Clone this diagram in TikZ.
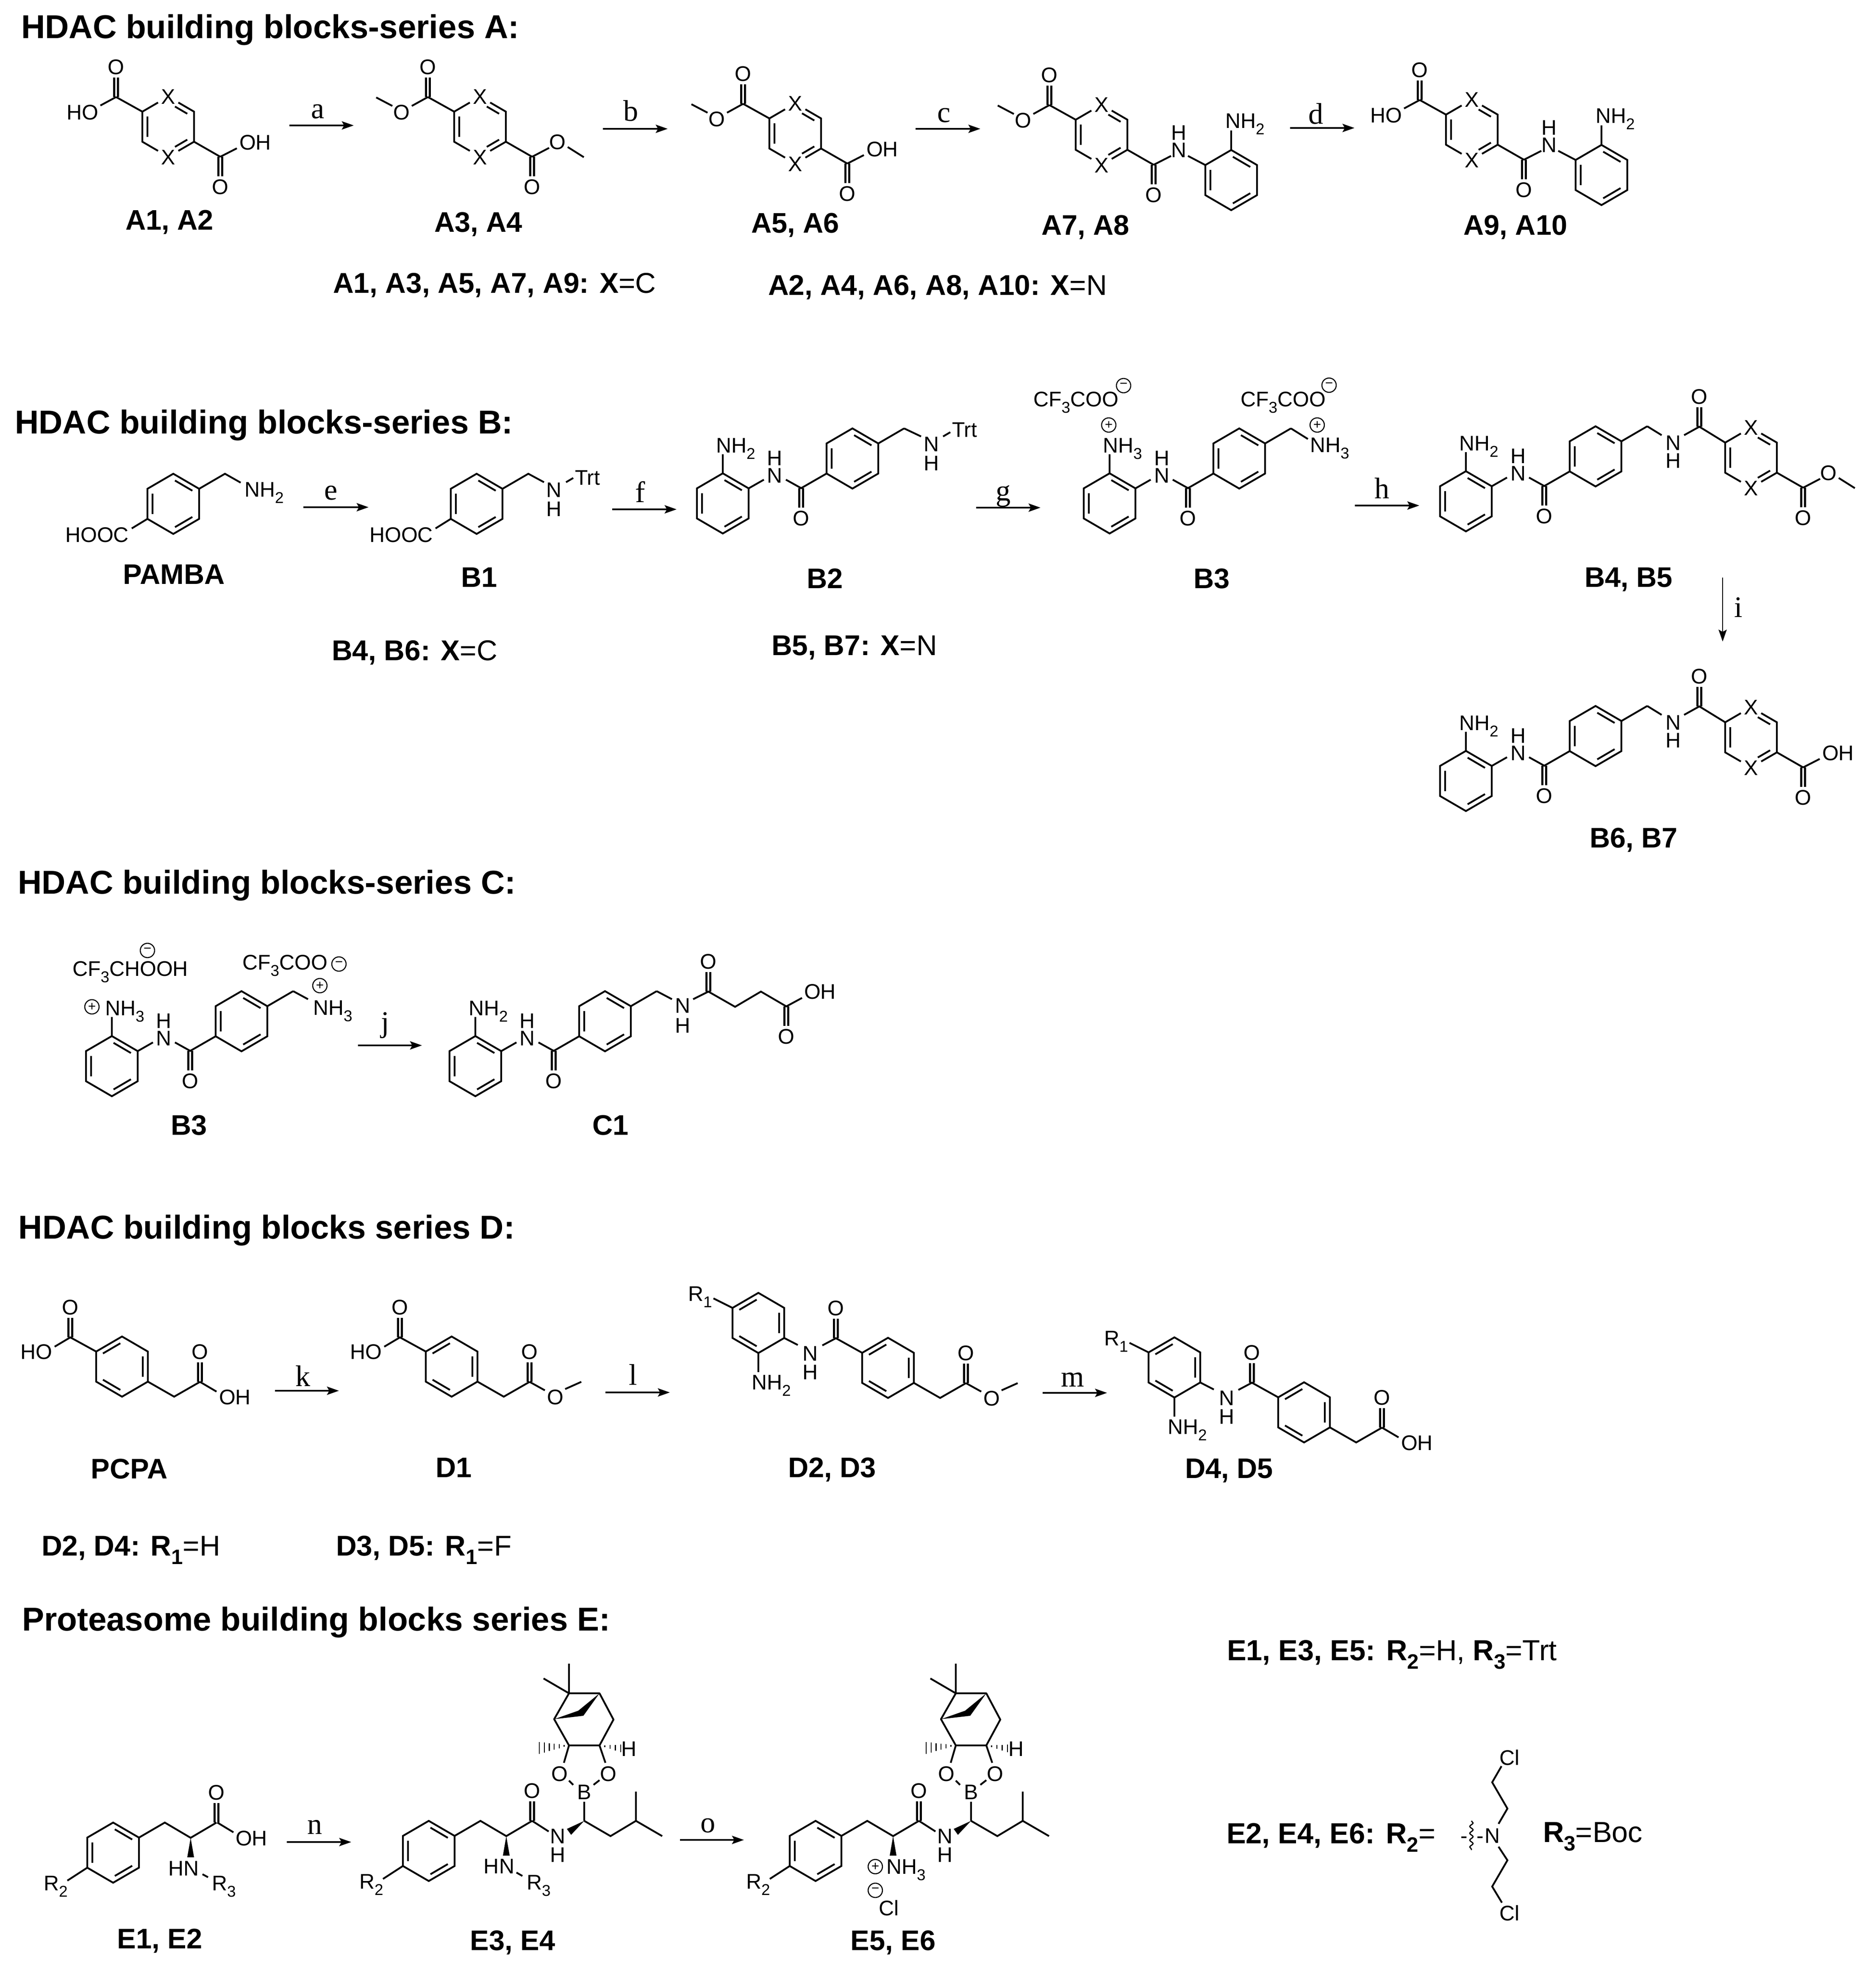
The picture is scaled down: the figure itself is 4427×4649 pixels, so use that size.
\documentclass[tikz,border=0pt]{standalone}
\usepackage{fontspec}
\setmainfont{Liberation Sans}
\newfontfamily\rxfont{Liberation Serif}
\usetikzlibrary{arrows.meta,decorations.pathmorphing}
\newcount\nodeno
\newcommand\atomfont{\fontsize{14.2}{14.2}\selectfont}
\newcommand\labfont{\fontsize{19}{19}\selectfont}
\newcommand\sbs[1]{\raisebox{-0.3em}{\fontsize{10.5}{10.5}\selectfont #1}}
\newcommand\lsub[1]{\raisebox{-0.3em}{\fontsize{14}{14}\selectfont #1}}
\tikzset{
  mybond/.style={line width=1.2pt},
  atomc/.style={font=\atomfont,inner sep=0pt,outer sep=0pt,text height=10.2pt,text depth=0pt},
  labc/.style={font=\labfont\bfseries,inner sep=0pt,outer sep=0pt,text height=13.7pt,text depth=0pt},
  capt/.style={font=\fontsize{19.2}{19.2}\selectfont,inner sep=0pt,outer sep=0pt,anchor=base west},
  ttl/.style={font=\fontsize{22.2}{22.2}\selectfont\bfseries,inner sep=0pt,outer sep=0pt,anchor=base west},
  rxlab/.style={font=\fontsize{20}{20}\selectfont\rxfont,inner sep=0pt,outer sep=0pt},
  rarrow/.style={line width=1.2pt,-{Stealth[length=8pt,width=5.5pt,inset=1.5pt]}},
  chgc/.style={circle,draw,line width=0.7pt,inner sep=0pt,outer sep=0pt,minimum size=9.6pt,font=\fontsize{9}{9}\selectfont}
}
\newcommand\at[4][center]{\global\advance\nodeno by 1 \node[atomc,anchor=#1] (n\the\nodeno) at (#2,#3) {#4};}
\newcommand\lab[3]{\global\advance\nodeno by 1 \node[labc] (n\the\nodeno) at (#1,#2) {#3};}
\newcommand\capn[3]{\global\advance\nodeno by 1 \node[capt] (n\the\nodeno) at (#1,#2) {#3};}
\newcommand\ttlx[3]{\global\advance\nodeno by 1 \node[ttl] (n\the\nodeno) at (#1,#2) {#3};}
\newcommand\chg[3]{\global\advance\nodeno by 1 \node[chgc] (n\the\nodeno) at (#1,#2) {#3};}
\newcommand\rxn[7]{\coordinate (#1s) at (#2,#3); \coordinate (#1e) at (#4,#3); \draw[rarrow] (#1s)--(#1e); \node[rxlab] (#1l) at (#6,#7) {#5};}
\newcommand\mol[3]{\begin{scope}[shift={(#1,#2)}]#3\end{scope}}
\newcommand\benzA[2]{\mol{#1}{#2}{\draw[mybond] (0,-71)--(61,-35.5)--(61,35.5)--(0,71)--(-61,35.5)--(-61,-35.5)--cycle;
  \draw[mybond] (-49,-24)--(-49,24) (4,-55)--(45,-31) (4,55)--(45,31);}}
\newcommand\benzB[2]{\mol{#1}{#2}{\draw[mybond] (0,-71)--(61,-35.5)--(61,35.5)--(0,71)--(-61,35.5)--(-61,-35.5)--cycle;
  \draw[mybond] (49,-24)--(49,24) (-4,-55)--(-45,-31) (-4,55)--(-45,31);}}
\newcommand\xring{\draw[mybond] (-24,-57)--(-61,-35.5)--(-61,35.5)--(-24,57) (24,-57)--(61,-35.5)--(61,35.5)--(24,57);
  \draw[mybond] (-49,-24)--(-49,24) (16,-47.6)--(45,-30.6) (16,47.6)--(45,30.6);
  \at{0}{-71}{X}\at{0}{72}{X}}
\newcommand\coup[2]{\draw[mybond] (#1-4.5,#2)--(#1-4.5,#2-46) (#1+4.5,#2)--(#1+4.5,#2-46); \at{#1}{#2-71}{O}}
\newcommand\codn[2]{\draw[mybond] (#1-4.5,#2)--(#1-4.5,#2+46) (#1+4.5,#2)--(#1+4.5,#2+46); \at{#1}{#2+71}{O}}
\newcommand\xL{\draw[mybond] (-61,-35.5)--(-123,-70); \coup{-123}{-70}}
\newcommand\xR{\draw[mybond] (61,35.5)--(123,71); \codn{123}{71}}
\newcommand\OMeL{\draw[mybond] (-123,-70)--(-161,-49) (-207,-49)--(-245,-69); \at{-185}{-34}{O}}
\newcommand\HOL{\draw[mybond] (-123,-70)--(-160,-50); \at[east]{-165}{-34}{HO}}
\newcommand\OMeR{\draw[mybond] (123,71)--(163,50) (207,48)--(245,72); \at{183}{36}{O}}
\newcommand\OHR{\draw[mybond] (123,71)--(162,51); \at[west]{168}{37}{OH}}
\newcommand\amideR{\draw[mybond] (123,71)--(164,50) (204,50)--(245,71.5) (306,36)--(306,-10);
  \at{182}{36}{N}\at{182}{-5}{H}\benzA{306}{107}\at[west]{292}{-33}{NH\sbs{2}}}
% aminophenyl amide + second ring + CH2 (local origin: aminophenyl centre)
\newcommand\anil[1]{\benzA{0}{0}\benzA{306}{-106}
  \draw[mybond] (0,-71)--(0,-116) (61,-35.5)--(97,-56) (149,-56)--(185,-36)--(245,-70.5) (367,-141.5)--(428,-177);
  \codn{185}{-36}\at{123}{-66}{N}\at{123}{-107}{H}\at[west]{-16}{-137}{#1}}
\newcommand\bfour[1]{\anil{NH\sbs{2}}
  \draw[mybond] (428,-177)--(462,-156) (515,-156)--(551,-176)--(612,-138.5);
  \coup{551}{-176}\at{489}{-138}{N}\at{489}{-96}{H}
  \mol{673}{-103}{\xring\xR #1}}
% D series helpers
\newcommand\dL{\draw[mybond] (-61,-35.5)--(-122,-69)--(-159,-47); \coup{-122}{-69}\at[east]{-165}{-35}{HO}}
\newcommand\tailC{\draw[mybond] (61,35.5)--(123,71)--(184,36); \coup{184}{36}}
\newcommand\tailOMe{\draw[mybond] (184,36)--(220,56) (268,53)--(306,36); \at{245}{72}{O}}
\newcommand\tailOH{\draw[mybond] (184,36)--(223,59); \at[west]{229}{72}{OH}}
\newcommand\dani[1]{\benzB{0}{0}\benzB{306}{106}
  \draw[mybond] (-61,-35.5)--(-106,-58) (0,71)--(0,116) (61,35.5)--(93,52) (151,53)--(183,36)--(245,70.5);
  \coup{183}{36}\at{123}{72}{N}\at{123}{116}{H}\at[west]{-166}{-69}{R\sbs{1}}\at[west]{-16}{140}{NH\sbs{2}}
  \mol{306}{106}{\tailC #1}}
% phenylalanine left part (local origin: ring centre)
\newcommand\eChain{\benzA{0}{0}
  \draw[mybond] (-61,35.5)--(-108,66) (61,-35.5)--(122,-71)--(183,-35)--(244,-71);
  \coup{244}{-71}\at[west]{-164}{72}{R\sbs{2}}
  \fill (183,-35)--(175,11)--(191,11)--cycle;}
% leucine boronate, coordinates as in E5 (shifted by #1)
\newcommand\boro[1]{\begin{scope}[shift={(#1,0)}]
  \draw[mybond] (2169,4297)--(2208,4322) (2292,4297)--(2292,4252) (2292,4297)--(2354,4333)--(2414,4297)--(2476,4333) (2414,4297)--(2414,4228);
  \fill (2292,4297)--(2251,4316)--(2261,4330)--cycle;
  \at{2230}{4333}{N}\at{2230}{4377}{H}\at{2292}{4229}{B}\at{2234}{4186}{O}\at{2349}{4186}{O}
  \draw[mybond] (2266,4212)--(2256,4202) (2314,4212)--(2328,4201);
  \draw[mybond,line join=round] (2244,4160)--(2256,4119)--(2221,4057)--(2256,3996)--(2328,3996)--(2361,4058)--(2328,4119)--(2342,4160) (2256,4119)--(2328,4119);
  \draw[mybond] (2256,3996)--(2256,3926) (2256,3996)--(2196,3961);
  \fill (2221,4057)--(2278,4037)--(2328,3996)--(2290,4049)--cycle;
  \foreach \hh in {0.17,0.33,0.5,0.67,0.83,1} {\draw[line width=0.8pt] (2256-70*\hh,4119+6*\hh-14*\hh)--(2256-70*\hh,4119+6*\hh+14*\hh);}
  \foreach \hh in {0.25,0.5,0.75,1} {\draw[line width=0.8pt] (2328+50*\hh,4119+7*\hh-9*\hh)--(2328+50*\hh,4119+7*\hh+9*\hh);}
  \at{2398}{4127}{H}
\end{scope}}
\begin{document}
\begin{tikzpicture}[x=0.01cm,y=-0.01cm]
\fill[white] (0,0) rectangle (4427,4649);
\useasboundingbox (0,0) rectangle (4427,4649);
% ---------- series A
\ttlx{50}{91}{HDAC building blocks-series A:}
\mol{397}{299}{\xring\xL\HOL\xR\OHR}
\mol{1133}{299}{\xring\xL\OMeL\xR\OMeR}
\mol{1877}{315}{\xring\xL\OMeL\xR\OHR}
\mol{2600}{318}{\xring\xL\OMeL\xR\amideR}
\mol{3474}{306}{\xring\xL\HOL\xR\amideR}
\rxn{a}{683}{296}{835}{a}{750}{263}
\rxn{b}{1423}{304}{1576}{b}{1489}{261}
\rxn{c}{2161}{304}{2314}{c}{2228}{272}
\rxn{d}{3045}{302}{3197}{d}{3106}{268}
\lab{400}{518}{A1, A2}
\lab{1129}{523}{A3, A4}
\lab{1877}{525}{A5, A6}
\lab{2562}{530}{A7, A8}
\lab{3577}{530}{A9, A10}
\capn{786}{692}{\textbf{A1, A3, A5, A7, A9: X}=C}
\capn{1813}{697}{\textbf{A2, A4, A6, A8, A10: X}=N}
% ---------- series B
\ttlx{35}{1023}{HDAC building blocks-series B:}
\benzA{409}{1189}
\draw[mybond] (470,1153.5)--(531,1118)--(568,1139) (348,1224.5)--(311,1247);
\at[west]{577}{1155}{NH\sbs{2}}
\at[east]{304}{1262}{HOOC}
\rxn{e}{716}{1197}{870}{e}{781}{1163}
\benzA{1125}{1189}
\draw[mybond] (1186,1153.5)--(1247,1118)--(1284,1138) (1336,1138)--(1353,1128) (1064,1224.5)--(1028,1247);
\at{1308}{1156}{N}\at{1308}{1201}{H}
\at[west]{1357}{1127}{Trt}
\at[east]{1022}{1262}{HOOC}
\rxn{f}{1445}{1202}{1597}{f}{1511}{1161}
\mol{1706}{1188}{\anil{NH\sbs{2}}}
\draw[mybond] (2134,1011)--(2174,1030) (2226,1030)--(2243,1020);
\at{2198}{1048}{N}\at{2198}{1093}{H}
\at[west]{2247}{1014}{Trt}
\rxn{g}{2304}{1198}{2456}{g}{2368}{1171}
\mol{2619}{1188}{\anil{NH\sbs{3}}}
\chg{2617}{1003}{+}
\draw[mybond] (3047,1011)--(3087,1036);
\at[west]{3092}{1050}{NH\sbs{3}}
\chg{3109}{1003}{+}
\at[west]{2439}{942}{CF\sbs{3}COO}
\chg{2652}{910}{−}
\at[west]{2928}{942}{CF\sbs{3}COO}
\chg{3137}{909}{−}
\rxn{h}{3198}{1193}{3350}{h}{3262}{1152}
\mol{3460}{1183}{\bfour{\OMeR}}
\coordinate (is) at (4066,1363); \coordinate (ie) at (4066,1514);
\draw[rarrow,line width=0.8pt] (is)--(ie);
\node[rxlab] (il) at (4103,1433) {i};
\mol{3460}{1843}{\bfour{\OHR}}
\lab{411}{1354}{PAMBA}
\lab{1131}{1361}{B1}
\lab{1947}{1364}{B2}
\lab{2860}{1364}{B3}
\lab{3844}{1361}{B4, B5}
\lab{3856}{1976}{B6, B7}
\capn{783}{1558}{\textbf{B4, B6: X}=C}
\capn{1821}{1546}{\textbf{B5, B7: X}=N}
% ---------- series C
\ttlx{42}{2109}{HDAC building blocks-series C:}
\mol{264}{2516}{\anil{NH\sbs{3}}}
\chg{217}{2376}{+}
\draw[mybond] (692,2339)--(727,2358);
\at[west]{739}{2378}{NH\sbs{3}}
\chg{755}{2326}{+}
\at[west]{171}{2286}{CF\sbs{3}CHOOH}
\chg{348}{2243}{−}
\at[west]{572}{2271}{CF\sbs{3}COO}
\chg{800}{2275}{−}
\rxn{j}{845}{2467}{996}{j}{909}{2420}
\mol{1122}{2516}{\anil{NH\sbs{2}}}
\draw[mybond] (1550,2339)--(1586,2358) (1636,2358)--(1672,2340)--(1735,2376)--(1796,2340)--(1856,2375)--(1893,2355);
\coup{1672}{2340}\codn{1856}{2375}
\at{1612}{2373}{N}\at{1612}{2420}{H}
\at[west]{1898}{2340}{OH}
\lab{446}{2654}{B3}
\lab{1441}{2654}{C1}
% ---------- series D
\ttlx{44}{2923}{HDAC building blocks series D:}
\benzB{288}{3225}
\mol{288}{3225}{\dL\tailC\tailOH}
\rxn{k}{649}{3282}{800}{k}{715}{3247}
\benzB{1066}{3225}
\mol{1066}{3225}{\dL\tailC\tailOMe}
\rxn{l}{1429}{3286}{1581}{l}{1494}{3244}
\mol{1790}{3122}{\dani{\tailOMe}}
\rxn{m}{2461}{3287}{2613}{m}{2532}{3256}
\mol{2772}{3227}{\dani{\tailOH}}
\lab{305}{3465}{PCPA}
\lab{1071}{3462}{D1}
\lab{1964}{3462}{D2, D3}
\lab{2901}{3464}{D4, D5}
\capn{98}{3671}{\textbf{D2, D4: R\lsub{1}}=H}
\capn{793}{3671}{\textbf{D3, D5: R\lsub{1}}=F}
% ---------- series E
\ttlx{52}{3848}{Proteasome building blocks series E:}
\mol{267}{4372}{\eChain}
\draw[mybond] (513,4301)--(551,4324) (478,4423)--(491,4430);
\at[west]{556}{4338}{OH}
\at{434}{4409}{HN}
\at[west]{500}{4444}{R\sbs{3}}
\rxn{n}{677}{4347}{829}{n}{743}{4312}
\mol{1012}{4368}{\eChain}
\boro{-913}
\at{1178}{4404}{HN}
\draw[mybond] (1219,4419)--(1233,4427);
\at[west]{1243}{4442}{R\sbs{3}}
\rxn{o}{1605}{4342}{1756}{o}{1671}{4308}
\mol{1925}{4368}{\eChain}
\boro{0}
\chg{2066}{4405}{+}
\at[west]{2092}{4405}{NH\sbs{3}}
\chg{2066}{4461}{−}
\at{2098}{4503}{Cl}
\lab{377}{4574}{E1, E2}
\lab{1210}{4578}{E3, E4}
\lab{2108}{4578}{E5, E6}
\capn{2896}{3918}{\fontsize{19.5}{19.5}\selectfont\textbf{E1, E3, E5: R\lsub{2}}=H, \textbf{R\lsub{3}}=Trt}
\capn{2895}{4350}{\fontsize{19.5}{19.5}\selectfont\textbf{E2, E4, E6: R\lsub{2}}=}
\capn{3642}{4347}{\fontsize{19.5}{19.5}\selectfont\textbf{R\lsub{3}}=Boc}
\at{3522}{4332}{N}
\at{3456}{4332}{-}
\at{3494}{4332}{-}
\draw[line width=0.8pt,decorate,decoration={snake,segment length=4.6pt,amplitude=1.1pt}] (3473,4297)--(3473,4366);
\draw[mybond] (3537,4304)--(3558,4268)--(3522,4206)--(3544,4168) (3537,4358)--(3558,4390)--(3522,4452)--(3545,4490);
\at{3563}{4148}{Cl}\at{3563}{4515}{Cl}
\end{tikzpicture}
\end{document}
